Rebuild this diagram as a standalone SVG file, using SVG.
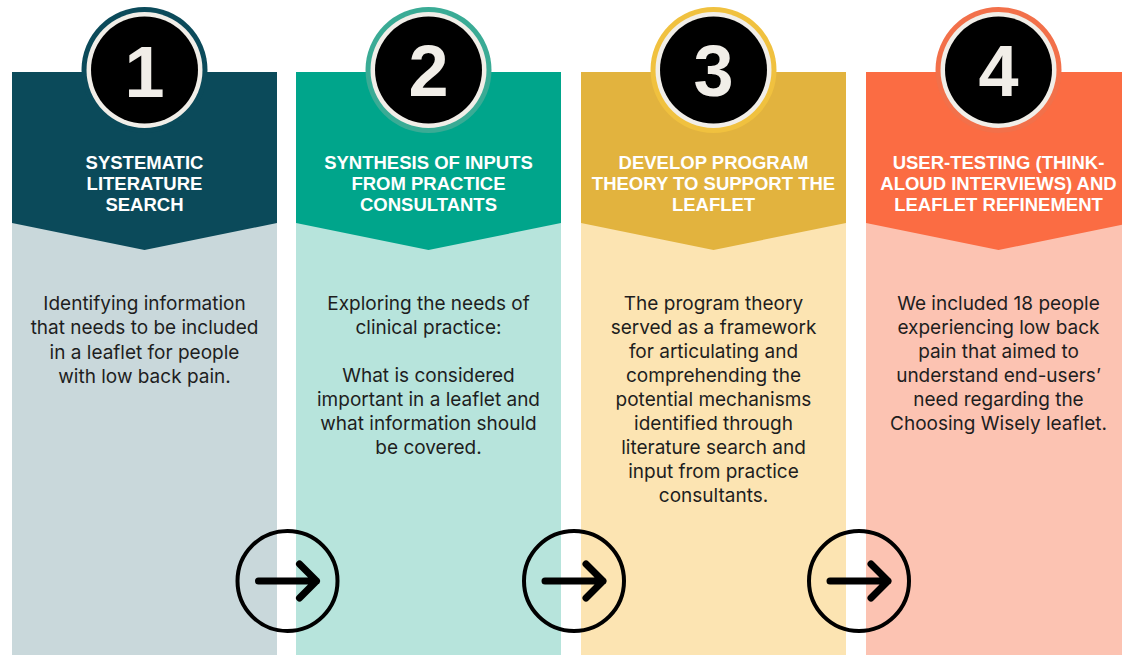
<svg xmlns="http://www.w3.org/2000/svg" width="1122" height="655" viewBox="0 0 1122 655">
<style>
.hdr{font-family:"Liberation Sans",Arial,sans-serif;font-weight:bold;font-size:18.5px;fill:#ffffff;text-anchor:middle}
.num{font-family:"Liberation Sans",Arial,sans-serif;font-weight:bold;font-size:72px;fill:#f1eee8;text-anchor:middle}
.body{font-family:Inter,"Noto Sans",sans-serif;font-size:19px;fill:#1e1e1e;text-anchor:middle}
.ringw{fill:#f1eee8}
.blk{fill:#000000}
.arr{fill:none;stroke:#000;stroke-width:4}
.arrl{fill:none;stroke:#000;stroke-width:7;stroke-linecap:round;stroke-linejoin:round}
</style>
<rect x="0" y="0" width="1122" height="655" fill="#ffffff"/>

<g id="step1">
<rect x="12" y="72" width="265" height="583" fill="#c9d8db"/>
<polygon points="12,72 277,72 277,223 144.5,250 12,223" fill="#0b4a5a"/>
<circle cx="144.5" cy="70" r="63" fill="#0b4a5a"/>
<circle cx="144.5" cy="70" r="58" class="ringw"/>
<circle cx="144.5" cy="70" r="53.5" class="blk"/>
<text x="144.5" y="97" class="num">1</text>
<text class="hdr"><tspan x="144.5" y="168.5">SYSTEMATIC</tspan><tspan x="144.5" y="189.5">LITERATURE</tspan><tspan x="144.5" y="210.5">SEARCH</tspan></text>
<text class="body"><tspan x="144.5" y="309.5">Identifying information</tspan><tspan x="144.5" y="334">that needs to be included</tspan><tspan x="144.5" y="358.5">in a leaflet for people</tspan><tspan x="144.5" y="383">with low back pain.</tspan></text>
</g>

<g id="step2">
<rect x="296" y="72" width="265" height="583" fill="#b7e4dc"/>
<polygon points="296,72 561,72 561,223 428.5,250 296,223" fill="#00a58b"/>
<circle cx="428.5" cy="70" r="63" fill="#3aab95"/>
<circle cx="428.5" cy="70" r="58" class="ringw"/>
<circle cx="428.5" cy="70" r="53.5" class="blk"/>
<text x="428.5" y="96" class="num">2</text>
<text class="hdr"><tspan x="428.5" y="168.5">SYNTHESIS OF INPUTS</tspan><tspan x="428.5" y="189.5">FROM PRACTICE</tspan><tspan x="428.5" y="210.5">CONSULTANTS</tspan></text>
<text class="body"><tspan x="428.5" y="309.5">Exploring the needs of</tspan><tspan x="428.5" y="334">clinical practice:</tspan><tspan x="428.5" y="382">What is considered</tspan><tspan x="428.5" y="406">important in a leaflet and</tspan><tspan x="428.5" y="430">what information should</tspan><tspan x="428.5" y="454">be covered.</tspan></text>
</g>

<g id="step3">
<rect x="581" y="72" width="265" height="583" fill="#fce4b2"/>
<polygon points="581,72 846,72 846,223 713.5,250 581,223" fill="#e2b33e"/>
<circle cx="713.5" cy="70" r="63" fill="#f0c13f"/>
<circle cx="713.5" cy="70" r="58" class="ringw"/>
<circle cx="713.5" cy="70" r="53.5" class="blk"/>
<text x="713.5" y="96" class="num">3</text>
<text class="hdr"><tspan x="713.5" y="168.5">DEVELOP PROGRAM</tspan><tspan x="713.5" y="189.5">THEORY TO SUPPORT THE</tspan><tspan x="713.5" y="210.5">LEAFLET</tspan></text>
<text class="body"><tspan x="713.5" y="309.5">The program theory</tspan><tspan x="713.5" y="334">served as a framework</tspan><tspan x="713.5" y="358">for articulating and</tspan><tspan x="713.5" y="382">comprehending the</tspan><tspan x="713.5" y="406">potential mechanisms</tspan><tspan x="713.5" y="430">identified through</tspan><tspan x="713.5" y="454">literature search and</tspan><tspan x="713.5" y="478">input from practice</tspan><tspan x="713.5" y="502">consultants.</tspan></text>
</g>

<g id="step4">
<rect x="866" y="72" width="265" height="583" fill="#fcc3b2"/>
<polygon points="866,72 1131,72 1131,223 998.5,250 866,223" fill="#fb6c43"/>
<circle cx="998.5" cy="70" r="63" fill="#f2704a"/>
<circle cx="998.5" cy="70" r="58" class="ringw"/>
<circle cx="998.5" cy="70" r="53.5" class="blk"/>
<text x="998.5" y="96" class="num">4</text>
<text class="hdr"><tspan x="998.5" y="168.5">USER-TESTING (THINK-</tspan><tspan x="998.5" y="189.5">ALOUD INTERVIEWS) AND</tspan><tspan x="998.5" y="210.5">LEAFLET REFINEMENT</tspan></text>
<text class="body"><tspan x="998.5" y="309.5">We included 18 people</tspan><tspan x="998.5" y="334">experiencing low back</tspan><tspan x="998.5" y="358">pain that aimed to</tspan><tspan x="998.5" y="382">understand end-users’</tspan><tspan x="998.5" y="406">need regarding the</tspan><tspan x="998.5" y="430">Choosing Wisely leaflet.</tspan></text>
</g>

<g id="connectors">
<g transform="translate(287.5,581)"><circle r="50" class="arr"/><path d="M-29,0 H29 M12,-17 L29,0 L12,17" class="arrl"/></g>
<g transform="translate(574,581)"><circle r="50" class="arr"/><path d="M-29,0 H29 M12,-17 L29,0 L12,17" class="arrl"/></g>
<g transform="translate(859,581)"><circle r="50" class="arr"/><path d="M-29,0 H29 M12,-17 L29,0 L12,17" class="arrl"/></g>
</g>
</svg>
